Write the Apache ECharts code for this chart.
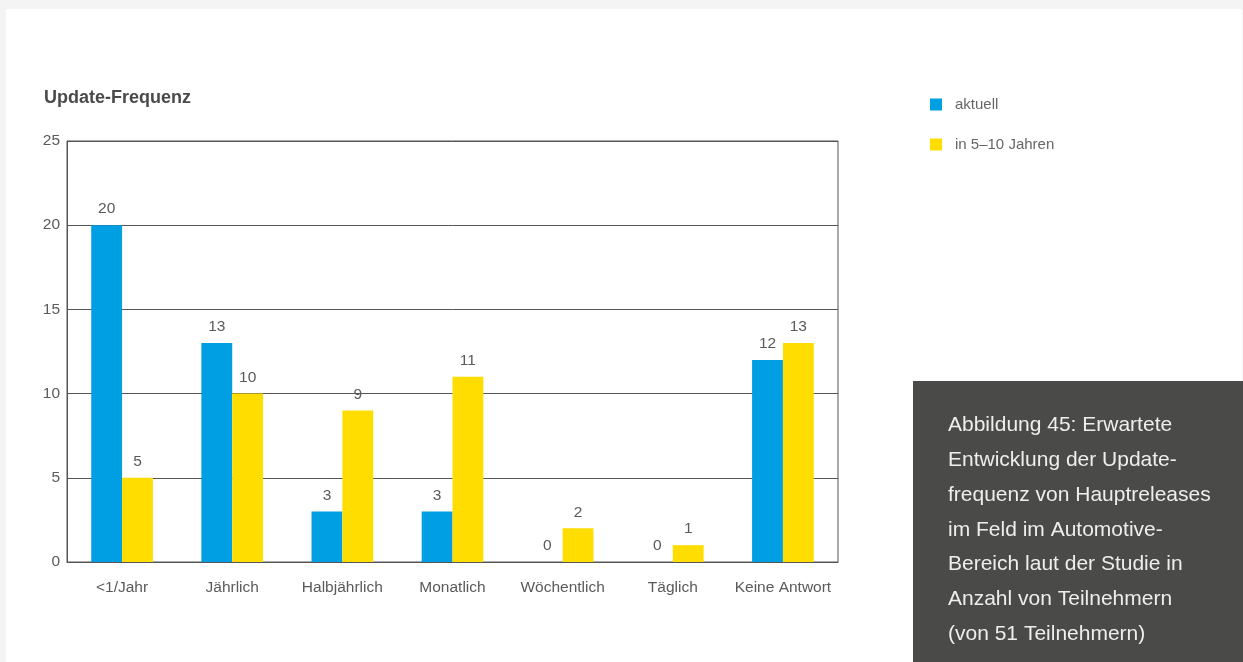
<!DOCTYPE html>
<html>
<head>
<meta charset="utf-8">
<script src="https://cdn.jsdelivr.net/npm/echarts@6/dist/echarts.min.js"></script>
<style>
html,body{margin:0;padding:0;background:#f4f4f4;}
#chart{width:1243px;height:662px;}
</style>
</head>
<body>
<div id="chart"></div>
<script>
var categories = ['<1/Jahr', 'Jährlich', 'Halbjährlich', 'Monatlich', 'Wöchentlich', 'Täglich', 'Keine Antwort'];
var aktuell = [20, 13, 3, 3, 0, 0, 12];
var zukunft = [5, 10, 9, 11, 2, 1, 13];
var seriesNames = ['aktuell', 'in 5–10 Jahren'];
var yTicks = [0, 5, 10, 15, 20, 25];
var captionLines = [
  'Abbildung 45: Erwartete',
  'Entwicklung der Update-',
  'frequenz von Hauptreleases',
  'im Feld im Automotive-',
  'Bereich laut der Studie in',
  'Anzahl von Teilnehmern',
  '(von 51 Teilnehmern)'
];

var FONT = '"Liberation Sans", Arial, sans-serif';
var LABEL = {color: '#5a5a5a', fontSize: 15.5, fontFamily: FONT};
var chart = echarts.init(document.getElementById('chart'));
chart.setOption({
  backgroundColor: '#f4f4f4',
  textStyle: {fontFamily: FONT},
  graphic: [
    {type: 'rect', z: -10, shape: {x: 6, y: 9, width: 1236, height: 660}, style: {fill: '#ffffff'}, silent: true},
    {type: 'rect', z: 10, shape: {x: 913, y: 381, width: 330, height: 281}, style: {fill: '#4a4a48'}, silent: true},
    {type: 'text', z: 11, left: 948, top: 408, style: {
      text: captionLines.join('\n'), fill: '#eeeeee', font: '21px ' + FONT, lineHeight: 34.8
    }},
    {type: 'text', left: 44, top: 89, style: {text: 'Update-Frequenz', fill: '#4a4a4a', font: 'bold 18px ' + FONT}}
  ],
  legend: {
    orient: 'vertical', left: 930, top: 97, padding: 0, itemWidth: 12, itemHeight: 12, itemGap: 25,
    icon: 'rect', textStyle: {color: '#666', fontSize: 15, fontFamily: FONT, padding: [0, 0, 0, 8]},
    data: seriesNames
  },
  grid: {left: 67, right: 405, top: 141, bottom: 100, show: true, borderColor: '#555', borderWidth: 1},
  xAxis: {
    type: 'category', data: categories,
    axisLine: {show: true, lineStyle: {color: '#555'}}, axisTick: {show: false},
    axisLabel: Object.assign({interval: 0, margin: 18}, LABEL)
  },
  yAxis: {
    type: 'value', min: 0, max: 25, interval: 5,
    axisLine: {show: true, lineStyle: {color: '#555'}}, axisTick: {show: false},
    axisLabel: Object.assign({margin: 7,
      formatter: function (v) { return yTicks.indexOf(v) >= 0 ? String(v) : ''; }}, LABEL),
    splitLine: {lineStyle: {color: '#555', width: 1}}
  },
  series: [
    {name: seriesNames[0], type: 'bar', data: aktuell, barWidth: '28%', barGap: '0%',
      itemStyle: {color: '#009fe3'},
      label: Object.assign({show: true, position: 'top', distance: 8}, LABEL)},
    {name: seriesNames[1], type: 'bar', data: zukunft, barWidth: '28%', barGap: '0%',
      itemStyle: {color: '#ffdd00'},
      label: Object.assign({show: true, position: 'top', distance: 8}, LABEL)}
  ]
});
</script>
</body>
</html>
